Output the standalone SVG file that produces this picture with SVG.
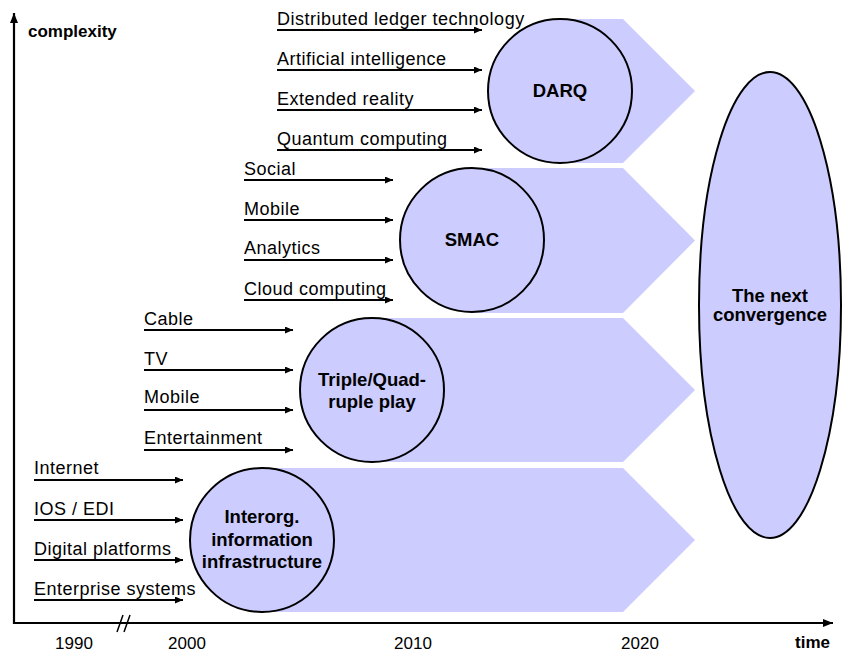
<svg xmlns="http://www.w3.org/2000/svg" width="843" height="653" viewBox="0 0 843 653">
<style>
.band{fill:#ccccff;stroke:none}
.node{fill:#ccccff;stroke:#000;stroke-width:2}
.lbl{font-family:"Liberation Sans",Arial,sans-serif;font-size:18px;letter-spacing:0.5px;fill:#000}
.bold{font-family:"Liberation Sans",Arial,sans-serif;font-size:18.5px;font-weight:bold;fill:#000;text-anchor:middle}
.ax{font-family:"Liberation Sans",Arial,sans-serif;font-size:17px;fill:#000}
.axb{font-family:"Liberation Sans",Arial,sans-serif;font-size:17px;font-weight:bold;fill:#000}
.arr{stroke:#000;stroke-width:1.8;fill:none;marker-end:url(#ah)}
.axis{stroke:#000;stroke-width:2.2;fill:none;marker-end:url(#axh)}
</style>
<defs>
<marker id="ah" markerUnits="userSpaceOnUse" markerWidth="9" markerHeight="8" refX="8" refY="3.5" orient="auto">
<path d="M0,0 L8,3.5 L0,7 z" fill="#000"/>
</marker>
<marker id="axh" markerUnits="userSpaceOnUse" markerWidth="11" markerHeight="9" refX="10" refY="4" orient="auto">
<path d="M0,0 L10,4 L0,8 z" fill="#000"/>
</marker>
</defs>
<rect width="843" height="653" fill="#fff"/>

<g id="bands">
<path class="band" d="M560,19 H623 L695,91 L623,163 H560 z"/>
<path class="band" d="M472,168 H623 L695,240.5 L623,313 H472 z"/>
<path class="band" d="M372,318 H623 L695,390 L623,462 H372 z"/>
<path class="band" d="M262,468 H623 L695,540 L623,612 H262 z"/>
</g>

<g id="axes">
<line class="axis" x1="14" y1="624" x2="14" y2="13"/>
<line class="axis" x1="13" y1="623" x2="833" y2="623"/>
<line x1="117" y1="632" x2="123" y2="615" stroke="#000" stroke-width="1.5"/>
<line x1="124" y1="632" x2="130" y2="615" stroke="#000" stroke-width="1.5"/>
<text class="axb" x="28" y="37">complexity</text>
<text class="axb" x="795" y="648">time</text>
<text class="ax" x="74" y="649" text-anchor="middle">1990</text>
<text class="ax" x="187" y="649" text-anchor="middle">2000</text>
<text class="ax" x="413" y="649" text-anchor="middle">2010</text>
<text class="ax" x="640" y="649" text-anchor="middle">2020</text>
</g>

<g id="connectors">
<line class="arr" x1="277" y1="30" x2="482" y2="30"/>
<line class="arr" x1="277" y1="70" x2="482" y2="70"/>
<line class="arr" x1="277" y1="110" x2="482" y2="110"/>
<line class="arr" x1="277" y1="150" x2="482" y2="150"/>
<line class="arr" x1="244" y1="180" x2="393" y2="180"/>
<line class="arr" x1="244" y1="220" x2="393" y2="220"/>
<line class="arr" x1="244" y1="260" x2="393" y2="260"/>
<line class="arr" x1="244" y1="300" x2="393" y2="300"/>
<line class="arr" x1="144" y1="330" x2="293" y2="330"/>
<line class="arr" x1="144" y1="370" x2="293" y2="370"/>
<line class="arr" x1="144" y1="410" x2="293" y2="410"/>
<line class="arr" x1="144" y1="450" x2="293" y2="450"/>
<line class="arr" x1="34" y1="480" x2="183" y2="480"/>
<line class="arr" x1="34" y1="520" x2="183" y2="520"/>
<line class="arr" x1="34" y1="560" x2="183" y2="560"/>
<line class="arr" x1="34" y1="600" x2="183" y2="600"/>
</g>

<g id="inputs">
<text class="lbl" x="277" y="25">Distributed ledger technology</text>
<text class="lbl" x="277" y="65">Artificial intelligence</text>
<text class="lbl" x="277" y="105">Extended reality</text>
<text class="lbl" x="277" y="145">Quantum computing</text>
<text class="lbl" x="244" y="175">Social</text>
<text class="lbl" x="244" y="215">Mobile</text>
<text class="lbl" x="244" y="254">Analytics</text>
<text class="lbl" x="244" y="295">Cloud computing</text>
<text class="lbl" x="144" y="325">Cable</text>
<text class="lbl" x="144" y="365">TV</text>
<text class="lbl" x="144" y="403">Mobile</text>
<text class="lbl" x="144" y="444">Entertainment</text>
<text class="lbl" x="34" y="474">Internet</text>
<text class="lbl" x="34" y="515">IOS / EDI</text>
<text class="lbl" x="34" y="555">Digital platforms</text>
<text class="lbl" x="34" y="595">Enterprise systems</text>
</g>

<g id="darq">
<circle class="node" cx="560" cy="91" r="72"/>
<text class="bold" x="560" y="97">DARQ</text>
</g>
<g id="smac">
<circle class="node" cx="472" cy="240" r="72"/>
<text class="bold" x="472" y="246">SMAC</text>
</g>
<g id="triple">
<circle class="node" cx="372" cy="390" r="72"/>
<text class="bold" x="372" y="386">Triple/Quad-</text>
<text class="bold" x="372" y="408">ruple play</text>
</g>
<g id="interorg">
<circle class="node" cx="262" cy="540" r="72"/>
<text class="bold" x="262" y="523">Interorg.</text>
<text class="bold" x="262" y="545.5">information</text>
<text class="bold" x="262" y="568">infrastructure</text>
</g>
<g id="next">
<ellipse class="node" cx="770" cy="305" rx="71" ry="233"/>
<text class="bold" x="770" y="302">The next</text>
<text class="bold" x="770" y="321">convergence</text>
</g>
</svg>
